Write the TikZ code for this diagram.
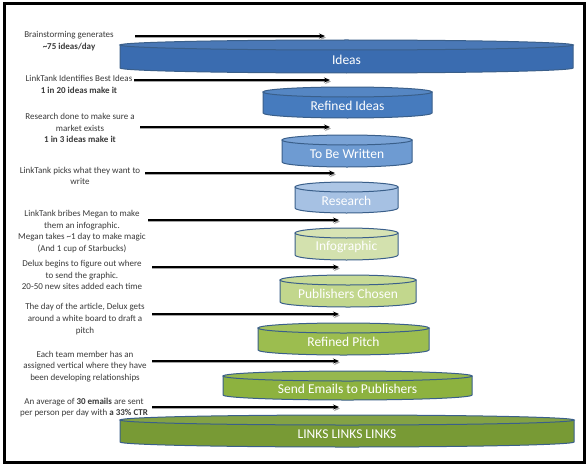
\documentclass[tikz,border=0pt]{standalone}
\usepackage{fontspec}
\setmainfont{Carlito}
\usetikzlibrary{arrows.meta}
\definecolor{txtgray}{HTML}{3A3A3A}
\definecolor{outl}{HTML}{3A5F8A}
\definecolor{cIdeas}{HTML}{3A6CB0}
\definecolor{cRefIdeas}{HTML}{467BBE}
\definecolor{cToBe}{HTML}{6E9BD2}
\definecolor{cResearch}{HTML}{A6C1E3}
\definecolor{cInfo}{HTML}{D3E1AE}
\definecolor{cPub}{HTML}{C2D78D}
\definecolor{cPitch}{HTML}{9CBD4F}
\definecolor{cSend}{HTML}{8DB23F}
\definecolor{cLinks}{HTML}{789A35}
\tikzset{
  cylline/.style={draw=outl, line width=1pt},
  cyltext/.style={text=white, font=\fontsize{13.5}{15}\selectfont, inner sep=0pt},
  note/.style={text=txtgray, align=center, font=\fontsize{9}{11.7}\selectfont, inner sep=0pt},
  flowarrow/.style={black, line width=1.3pt, -{Stealth[length=6pt,width=5pt]}},
  arrowshadow/.style={gray!70, line width=1.2pt, -{Stealth[length=6pt,width=5pt]}},
}
% #1 name, #2 x1, #3 x2, #4 top ellipse centre (px), #5 bottom ellipse centre (px), #6 fill, #7 label
\newcommand\mycyl[7]{%
  \pgfmathsetmacro\cA{467-#4}%
  \pgfmathsetmacro\cB{467-#5}%
  \pgfmathsetmacro\cR{(#3-#2)/2}%
  \pgfmathsetmacro\cM{(#2+#3)/2}%
  \pgfmathsetmacro\cT{(\cA+\cB)/2-3}%
  \draw[cylline, fill=#6] (#2,\cA) -- (#2,\cB) arc[start angle=180,end angle=360,x radius=\cR pt,y radius=5pt] -- (#3,\cA) -- cycle;
  \draw[cylline, fill=#6!92!white] (\cM,\cA) ellipse[x radius=\cR pt, y radius=5pt];
  \node[cyltext] (#1) at (\cM,\cT) {#7};
}
% #1 start x, #2 end x, #3 y (px), #4 name suffix
\newcommand\myarrow[4]{%
  \pgfmathsetmacro\aY{467-#3}%
  \coordinate (s#4) at (#1,\aY);
  \coordinate (e#4) at (#2,\aY);
  \coordinate (ss#4) at (#1,\aY-1.6);
  \coordinate (es#4) at (#2+1,\aY-1.6);
  \draw[arrowshadow] (ss#4) -- (es#4);
  \draw[flowarrow] (s#4) -- (e#4);
}
\begin{document}
\begin{tikzpicture}[x=1pt,y=1pt]
\useasboundingbox (0,0) rectangle (588,467);
\fill[white] (0,0) rectangle (588,467);
\draw[black, line width=3pt] (4,5) rectangle (584,463);

\mycyl{ideas}{120}{573}{45}{68}{cIdeas}{Ideas}
\mycyl{refined}{263}{432}{92}{113}{cRefIdeas}{Refined Ideas}
\mycyl{tobe}{282}{412}{140}{162}{cToBe}{To Be Written}
\mycyl{research}{295}{398}{187}{208}{cResearch}{Research}
\mycyl{infographic}{295}{398}{233}{255}{cInfo}{Infographic}
\mycyl{publishers}{280}{416}{280}{302}{cPub}{Publishers Chosen}
\mycyl{pitch}{258}{429}{328}{350}{cPitch}{Refined Pitch}
\mycyl{send}{223}{472}{376}{395}{cSend}{Send Emails to Publishers}
\mycyl{links}{120}{574}{420}{442}{cLinks}{LINKS LINKS LINKS}

\node[note] (t1) at (69,{467-41}) {Brainstorming generates\\\textbf{\textasciitilde75 ideas/day}};
\node[note] (t2) at (79,{467-84.5}) {LinkTank Identifies Best Ideas\\\textbf{1 in 20 ideas make it}};
\node[note] (t3) at (80,{467-128}) {Research done to make sure a\\market exists\\\textbf{1 in 3 ideas make it}};
\node[note] (t4) at (80,{467-176}) {LinkTank picks what they want to\\write};
\node[note] (t5) at (82,{467-231.5}) {LinkTank bribes Megan to make\\them an infographic.\\Megan takes \textasciitilde1 day to make magic\\(And 1 cup of Starbucks)};
\node[note] (t6) at (82,{467-275}) {Delux begins to figure out where\\to send the graphic.\\20-50 new sites added each time};
\node[note] (t7) at (85,{467-319}) {The day of the  article, Delux gets\\around a white board to draft a\\pitch};
\node[note] (t8) at (85,{467-366.5}) {Each team member has an\\assigned vertical where they have\\been developing relationships};
\node[note] (t9) at (84,{467-407.5}) {An average of \textbf{30 emails} are sent\\per person per day with \textbf{a 33\% CTR}};

\myarrow{135}{325}{36}{1}
\myarrow{134}{330}{80}{2}
\myarrow{140}{330}{127}{3}
\myarrow{145}{335}{173}{4}
\myarrow{148}{339}{220}{5}
\myarrow{152}{339}{267}{6}
\myarrow{152}{339}{314}{7}
\myarrow{152}{339}{361}{8}
\myarrow{152}{339}{407}{9}
\end{tikzpicture}
\end{document}
